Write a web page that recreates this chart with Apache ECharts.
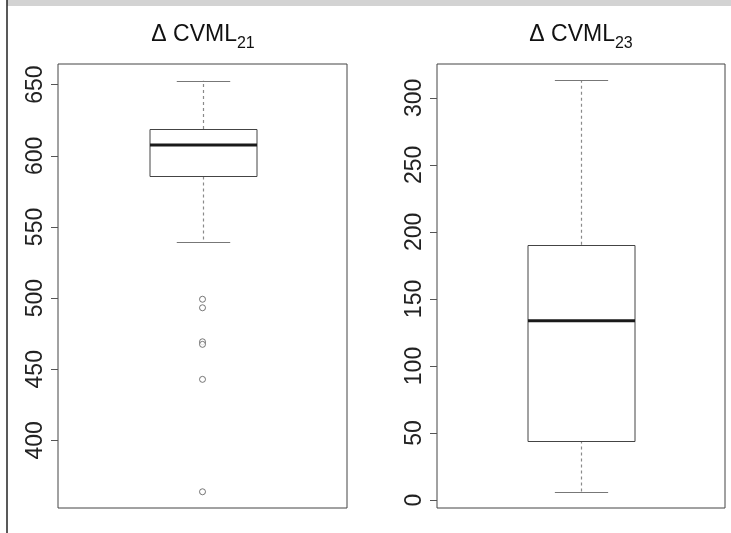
<!DOCTYPE html>
<html><head><meta charset="utf-8">
<script src="https://cdn.jsdelivr.net/npm/echarts@6/dist/echarts.min.js"></script>
<style>html,body{margin:0;padding:0;background:#fff}#c{width:731px;height:533px}</style>
</head><body><div id="c"></div>
<script>
// ---- data ----
const titles = [['Δ CVML', '21'], ['Δ CVML', '23']];
// [lowerWhisker, Q1, median, Q3, upperWhisker]
const stats21 = [539.4, 585.5, 607.6, 618.8, 652.8];
const outliers21 = [499.2, 493.2, 469.3, 467.5, 442.9, 363.9];
const stats23 = [6.3, 44.5, 133.8, 190.5, 312.9];
const outliers23 = [];
const ticks21 = [400, 450, 500, 550, 600, 650];
const ticks23 = [0, 50, 100, 150, 200, 250, 300];
const range21 = [352.5, 664.5];
const range23 = [-5.9, 325.2];

const chart = echarts.init(document.getElementById('c'), null, {renderer: 'canvas'});
const FONT = 'Liberation Sans, Arial, Helvetica, sans-serif';

function boxRender(params, api) {
  const x = api.value(0);
  const lo = api.coord([x, api.value(1)]);
  const q1 = api.coord([x, api.value(2)]);
  const md = api.coord([x, api.value(3)]);
  const q3 = api.coord([x, api.value(4)]);
  const hi = api.coord([x, api.value(5)]);
  const band = api.size([1, 0])[0];
  const bw = band * 0.37, cw = band * 0.185;
  const cx = Math.round(lo[0]) + 0.5;
  const dashStyle = {stroke: '#8a8a8a', lineWidth: 1.2, lineDash: [3, 3]};
  const capStyle = {stroke: '#777', lineWidth: 1};
  return {type: 'group', children: [
    {type: 'line', shape: {x1: cx, y1: q3[1], x2: cx, y2: hi[1]}, style: dashStyle},
    {type: 'line', shape: {x1: cx, y1: q1[1], x2: cx, y2: lo[1]}, style: dashStyle},
    {type: 'line', shape: {x1: cx - cw / 2, y1: Math.round(hi[1]) + 0.5, x2: cx + cw / 2, y2: Math.round(hi[1]) + 0.5}, style: capStyle},
    {type: 'line', shape: {x1: cx - cw / 2, y1: Math.round(lo[1]) + 0.5, x2: cx + cw / 2, y2: Math.round(lo[1]) + 0.5}, style: capStyle},
    {type: 'rect', shape: {x: Math.round(cx - bw / 2), y: Math.round(q3[1]) + 0.5, width: Math.round(bw), height: Math.round(q1[1] - q3[1])},
      style: {fill: '#fff', stroke: '#444', lineWidth: 1}},
    {type: 'line', shape: {x1: Math.round(cx - bw / 2), y1: md[1], x2: Math.round(cx + bw / 2), y2: md[1]}, style: {stroke: '#1a1a1a', lineWidth: 3}}
  ]};
}

function yAxisFor(idx, range, ticks) {
  return {
    type: 'value', gridIndex: idx, min: range[0], max: range[1],
    axisLine: {show: false},
    splitLine: {show: false},
    axisTick: {show: true, length: 7, customValues: ticks, lineStyle: {color: '#555'}},
    axisLabel: {show: true, customValues: ticks, rotate: 90, margin: 11,
      fontFamily: FONT, fontSize: 23, color: '#222'}
  };
}
function xAxisFor(idx, name) {
  return {type: 'category', gridIndex: idx, data: [name], boundaryGap: true,
    axisLine: {show: false}, axisTick: {show: false}, axisLabel: {show: false}, splitLine: {show: false}};
}
function titleText(x, t) {
  return {type: 'text', x: x, y: 52, z: 10,
    style: {text: '{a|' + t[0] + '}{s|' + t[1] + '}', align: 'center', verticalAlign: 'bottom',
      rich: {a: {fontFamily: FONT, fontSize: 23, lineHeight: 29, verticalAlign: 'top', fill: '#111'},
             s: {fontFamily: FONT, fontSize: 16, lineHeight: 29, verticalAlign: 'bottom', fill: '#111'}}}};
}

chart.setOption({
  animation: false,
  backgroundColor: '#fff',
  grid: [
    {left: 58, top: 64, width: 289, height: 444, show: true, borderColor: '#444', borderWidth: 1, backgroundColor: 'transparent'},
    {left: 437, top: 64, width: 288, height: 444, show: true, borderColor: '#444', borderWidth: 1, backgroundColor: 'transparent'}
  ],
  xAxis: [xAxisFor(0, titles[0].join('')), xAxisFor(1, titles[1].join(''))],
  yAxis: [yAxisFor(0, range21, ticks21), yAxisFor(1, range23, ticks23)],
  graphic: [
    {type: 'rect', shape: {x: 7, y: 0, width: 724, height: 6}, style: {fill: '#d3d3d3'}},
    {type: 'line', shape: {x1: 7, y1: 0, x2: 7, y2: 533}, style: {stroke: '#222', lineWidth: 1.5}},
    titleText(203, titles[0]),
    titleText(581, titles[1])
  ],
  series: [
    {type: 'custom', xAxisIndex: 0, yAxisIndex: 0, renderItem: boxRender,
      data: [[0].concat(stats21)]},
    {type: 'custom', xAxisIndex: 1, yAxisIndex: 1, renderItem: boxRender,
      data: [[0].concat(stats23)]},
    {type: 'scatter', xAxisIndex: 0, yAxisIndex: 0, symbol: 'circle', symbolSize: 6, z: 5,
      itemStyle: {color: '#fff', borderColor: '#555', borderWidth: 1},
      data: outliers21.map(v => [0, v])},
    {type: 'scatter', xAxisIndex: 1, yAxisIndex: 1, symbol: 'circle', symbolSize: 6, z: 5,
      itemStyle: {color: '#fff', borderColor: '#555', borderWidth: 1},
      data: outliers23.map(v => [0, v])}
  ]
});
</script></body></html>
